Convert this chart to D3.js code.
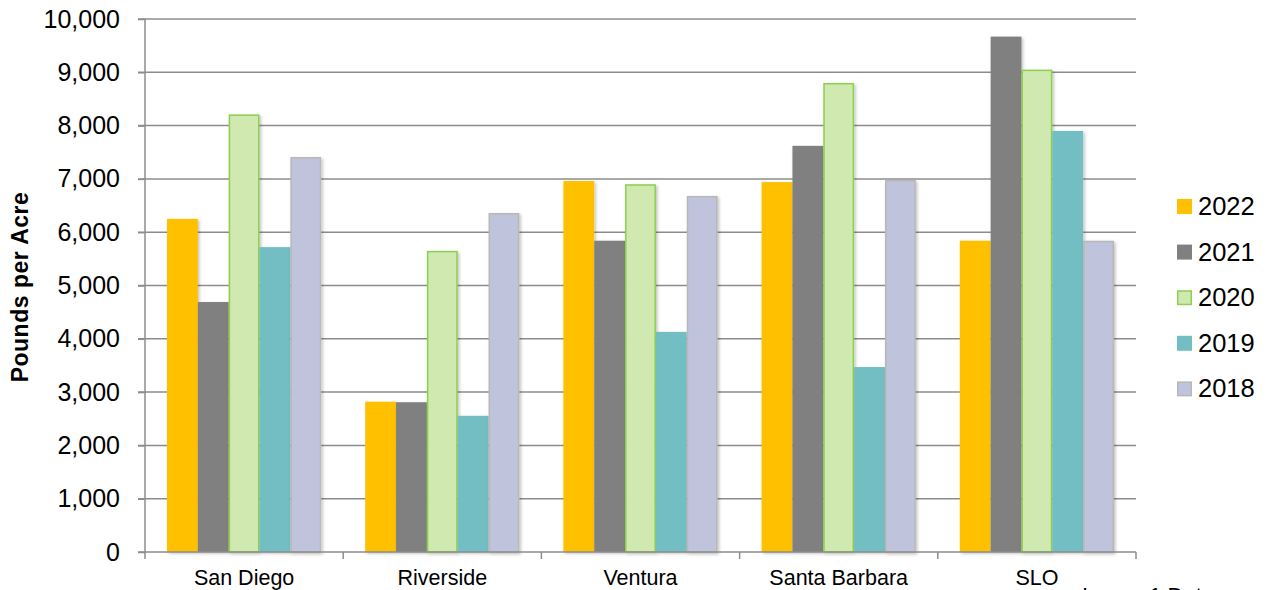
<!DOCTYPE html>
<html>
<head>
<meta charset="utf-8">
<script src="https://cdn.jsdelivr.net/npm/d3@7"></script>
<style>
  body { margin: 0; background: #fff; }
  text { font-family: Arial, "Liberation Sans", sans-serif; }
</style>
</head>
<body>
<div id="root"></div>
<script>
// chart data
const counties = ["San Diego", "Riverside", "Ventura", "Santa Barbara", "SLO"];
const years = ["2022", "2021", "2020", "2019", "2018"];
const v2022 = [6250, 2820, 6960, 6940, 5840];
const v2021 = [4690, 2810, 5840, 7620, 9670];
const v2020 = [8210, 5650, 6900, 8800, 9050];
const v2019 = [5720, 2555, 4130, 3470, 7900];
const v2018 = [7410, 6360, 6680, 6980, 5840];
const yTicks = [0, 1000, 2000, 3000, 4000, 5000, 6000, 7000, 8000, 9000, 10000];

const fills = ["#ffc000", "#808080", "#d0e9b0", "#73bec3", "#bfc3dc"];
const strokes = ["none", "none", "#8dd04f", "none", "#b8b8b8"];

const series = [v2022, v2021, v2020, v2019, v2018];

const w = 1273, h = 590;
const margin = { top: 19, right: 137, bottom: 38, left: 145 };
const width = w - margin.left - margin.right;
const height = h - margin.top - margin.bottom;

const svg = d3.select("#root").append("svg")
    .attr("width", w)
    .attr("height", h);

const defs = svg.append("defs");
const shadow = defs.append("filter").attr("id", "shadow")
    .attr("x", "-20%").attr("y", "-5%").attr("width", "150%").attr("height", "110%");
shadow.append("feDropShadow")
    .attr("dx", 1.5).attr("dy", 1.5).attr("stdDeviation", 1.5)
    .attr("flood-color", "#000").attr("flood-opacity", 0.25);

const g = svg.append("g")
    .attr("transform", "translate(" + margin.left + "," + margin.top + ")");

const x = d3.scaleBand().domain(counties).range([0, width]);
// the five bars fill the middle 78% of each county band
const inner = d3.scaleBand().domain(years)
    .range([x.bandwidth() * 0.111, x.bandwidth() * 0.889]);

const y = d3.scaleLinear().domain([0, 10000]).range([height, 0]);

// gridlines
g.append("g")
  .selectAll("line")
  .data(yTicks.filter(d => d > 0))
  .enter().append("line")
    .attr("x1", -7)
    .attr("x2", width)
    .attr("y1", d => y(d))
    .attr("y2", d => y(d))
    .attr("stroke", "#8c8c8c")
    .attr("stroke-width", 1.5);

// bars
const groups = g.selectAll(".county")
  .data(counties)
  .enter().append("g")
    .attr("class", "county")
    .attr("transform", d => "translate(" + x(d) + ",0)");

const inset = si => strokes[si] !== "none" ? 0.75 : 0;

groups.selectAll("rect")
  .data((c, ci) => years.map((yr, si) => ({ yr: yr, si: si, v: series[si][ci] })))
  .enter().append("rect")
    .attr("x", d => inner(d.yr) + inset(d.si))
    .attr("y", d => y(d.v) + inset(d.si))
    .attr("width", d => inner.bandwidth() - 2 * inset(d.si))
    .attr("height", d => height - y(d.v) - inset(d.si))
    .attr("fill", d => fills[d.si])
    .attr("stroke", d => strokes[d.si])
    .attr("stroke-width", 1.5)
    .attr("filter", "url(#shadow)");

// y axis
const yAxis = g.append("g")
    .call(d3.axisLeft(y).tickValues(yTicks).tickSize(7).tickFormat(d3.format(",")));
yAxis.select(".domain").attr("stroke", "#8c8c8c").attr("stroke-width", 1.5)
    .attr("d", "M0," + height + "V0");
yAxis.selectAll(".tick line").attr("stroke", "#8c8c8c").attr("stroke-width", 1.5);
yAxis.selectAll(".tick text")
    .attr("x", -25)
    .attr("font-size", 25)
    .attr("fill", "#000");

// x axis
const xAxis = g.append("g")
    .attr("transform", "translate(0," + height + ")");
xAxis.append("line")
    .attr("x1", -7).attr("x2", width)
    .attr("y1", 0).attr("y2", 0)
    .attr("stroke", "#8c8c8c").attr("stroke-width", 1.5);
xAxis.selectAll(".xtick")
  .data(d3.range(counties.length + 1))
  .enter().append("line")
    .attr("x1", i => i * x.step())
    .attr("x2", i => i * x.step())
    .attr("y1", 0).attr("y2", 7)
    .attr("stroke", "#8c8c8c").attr("stroke-width", 1.5);
xAxis.selectAll(".xlabel")
  .data(counties)
  .enter().append("text")
    .attr("x", d => x(d) + x.bandwidth() / 2)
    .attr("y", 33)
    .attr("text-anchor", "middle")
    .attr("font-size", 21.5)
    .attr("fill", "#000")
    .text(d => d);

// y label
svg.append("text")
    .attr("transform", "translate(28,287) rotate(-90)")
    .attr("text-anchor", "middle")
    .attr("font-size", 23)
    .attr("letter-spacing", 0.5)
    .attr("font-weight", "bold")
    .text("Pounds per Acre");

// legend
const legend = svg.append("g").attr("transform", "translate(1177,199)");
const item = legend.selectAll(".item")
  .data(years)
  .enter().append("g")
    .attr("class", "item")
    .attr("transform", (d, i) => "translate(0," + i * 45.6 + ")");
item.append("rect")
    .attr("x", (d, i) => inset(i))
    .attr("y", (d, i) => inset(i))
    .attr("width", (d, i) => 15 - 2 * inset(i))
    .attr("height", (d, i) => 15 - 2 * inset(i))
    .attr("fill", (d, i) => fills[i])
    .attr("stroke", (d, i) => strokes[i])
    .attr("stroke-width", 1.5);
item.append("text")
    .attr("x", 21)
    .attr("y", 16)
    .attr("font-size", 25.5)
    .text(d => d);

// caption cut off at the bottom edge, as in the original
svg.append("text")
    .attr("x", 1082)
    .attr("y", 603)
    .attr("font-size", 22)
    .text("Image 1 Data");
</script>
</body>
</html>
